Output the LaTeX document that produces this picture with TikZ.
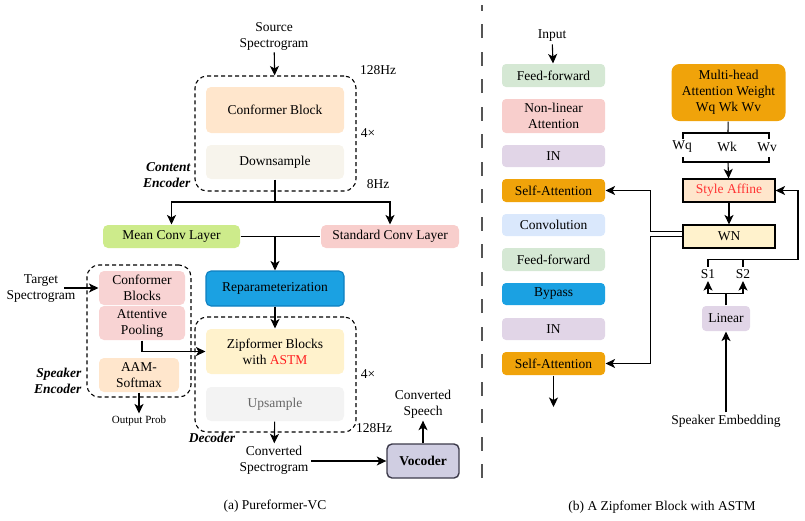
\documentclass[tikz,border=0pt]{standalone}
\usepackage{fontspec}
\setmainfont{Liberation Serif}
\usetikzlibrary{arrows.meta}

\definecolor{peach}{HTML}{FFE6CC}
\definecolor{beige}{HTML}{F7F4EC}
\definecolor{lime}{HTML}{CDEB8B}
\definecolor{rose}{HTML}{F8CECC}
\definecolor{blush}{HTML}{F8D3D3}
\definecolor{azure}{HTML}{1BA1E2}
\definecolor{azureline}{HTML}{0E7FC0}
\definecolor{cream}{HTML}{FFF2CC}
\definecolor{ash}{HTML}{F3F3F3}
\definecolor{ashtext}{HTML}{666666}
\definecolor{lavender}{HTML}{D0CEE2}
\definecolor{vocline}{HTML}{3C3A4A}
\definecolor{mint}{HTML}{D5E8D4}
\definecolor{lilac}{HTML}{E1D5E7}
\definecolor{amber}{HTML}{F0A30A}
\definecolor{sky}{HTML}{DAE8FC}
\definecolor{astm}{HTML}{FF2020}
\definecolor{affine}{HTML}{FF3333}
\definecolor{sepgray}{HTML}{555555}

\tikzset{
  blk/.style={rounded corners=5pt,minimum width=138,align=center},
  lay/.style={rounded corners=4pt,minimum width=103,minimum height=23,align=center},
  sq/.style={draw=black,minimum width=92,minimum height=23},
  frame/.style={draw,dash pattern=on 4pt off 3pt,rounded corners=12pt},
  tag/.style={font=\fontsize{13.5}{16}\selectfont\bfseries\itshape,align=right},
}

\begin{document}
\begin{tikzpicture}[x=1pt,y=-1pt,inner sep=2pt,line width=1.1pt,
    font=\fontsize{13.5}{16}\selectfont,
    >={Stealth[length=9.5pt,width=9pt,inset=2.5pt]}]
  \useasboundingbox (0,0) rectangle (805,520);

  % (a) Pureformer-VC
  \node[align=center] (src-spec) at (274,36) {Source\\Spectrogram};
  \node[frame,minimum width=161,minimum height=115] (cont-box) at (275.5,133.5) {};
  \node[blk,fill=peach,minimum height=46] (conf-block) at (275,110) {Conformer Block};
  \node[blk,fill=beige,minimum height=34] (down-sample) at (275,162) {Downsample};
  \node (hz-128a) at (378,70) {128Hz};
  \node (rep-a)   at (368,133) {4×};
  \node (hz-8)    at (378,184) {8Hz};
  \node[tag,anchor=east] (cont-lbl) at (193,175) {Content\\Encoder};

  \node[blk,fill=lime,minimum width=137,minimum height=23] (mean-conv) at (171.5,236.5) {Mean Conv Layer};
  \node[blk,fill=rose,minimum height=23] (std-conv) at (390,236.5) {Standard Conv Layer};
  \node[blk,fill=azure,draw=azureline,minimum height=35] (reparam) at (275,288.5) {Reparameterization};

  \node[frame,minimum width=161,minimum height=115] (dec-box) at (275.5,374.5) {};
  \node[blk,fill=cream,minimum height=45] (zip-block) at (275,351.5) {Zipformer Blocks\\with \textcolor{astm}{ASTM}};
  \node[blk,fill=ash,text=ashtext,minimum height=34] (up-sample) at (275,404) {Upsample};
  \node (rep-b)   at (368,374) {4×};
  \node (hz-128b) at (374,428) {128Hz};
  \node[tag] (dec-lbl) at (212,438) {Decoder};
  \node[align=center] (conv-spec) at (274,460) {Converted\\Spectrogram};
  \node[blk,fill=lavender,draw=vocline,line width=1.4pt,minimum width=72,minimum height=34,
        font=\fontsize{13.5}{16}\selectfont\bfseries] (vocoder) at (423,461) {Vocoder};
  \node[align=center] (conv-speech) at (423,404) {Converted\\Speech};

  \node[frame,minimum width=104,minimum height=132] (spk-box) at (139,331) {};
  \node[blk,fill=blush,minimum width=86,minimum height=34] (spk-conf) at (142,288) {Conformer\\Blocks};
  \node[blk,fill=blush,minimum width=86,minimum height=34] (att-pool) at (142,323) {Attentive\\Pooling};
  \node[blk,fill=peach,minimum width=80,minimum height=34] (aam) at (139,375) {AAM-\\Softmax};
  \node[align=center] (tgt-spec) at (41,289) {Target\\Spectrogram};
  \coordinate (tgt-in) at (64,288);
  \node[font=\fontsize{11}{13}\selectfont] (out-prob) at (139,421) {Output Prob};
  \node[tag,anchor=east] (spk-lbl) at (84,381) {Speaker\\Encoder};

  \node (cap-a) at (275,506) {(a) Pureformer-VC};

  \coordinate (split) at (275,202);
  \coordinate (join)  at (275,236.5);
  \draw[->] (src-spec) -- (cont-box);
  \draw (down-sample) -- (split);
  \draw[->] (split) -| (mean-conv);
  \draw[->] (split) -| (std-conv);
  \draw (mean-conv) -- (std-conv);
  \draw[->] (join) -- (reparam);
  \draw[->] (reparam) -- (zip-block);
  \draw[->] (up-sample) -- (conv-spec);
  \draw[->] (conv-spec.east |- vocoder) -- (vocoder);
  \draw[->] (vocoder) -- (conv-speech);
  \draw[->] (tgt-in) -- (spk-conf);
  \draw[->] (att-pool.south) |- (zip-block.west);
  \draw[->] (aam) -- (out-prob);

  \draw[draw=sepgray,line width=2pt,dash pattern=on 14pt off 13.5pt] (482,478) -- (482,5);

  % (b) Zipformer block
  \node (input) at (552,36) {Input};
  \node[lay,fill=mint]                    (ff1)    at (553.5,75.5)  {Feed-forward};
  \node[lay,fill=rose,minimum height=34]  (nla)    at (553.5,116)   {Non-linear\\Attention};
  \node[lay,fill=lilac,minimum height=22] (in1)    at (553.5,156)   {IN};
  \node[lay,fill=amber]                   (sa1)    at (553.5,190.5) {Self-Attention};
  \node[lay,fill=sky,minimum height=22]   (conv)   at (553.5,225)   {Convolution};
  \node[lay,fill=mint]                    (ff2)    at (553.5,259.5) {Feed-forward};
  \node[lay,fill=azure,minimum height=22] (bypass) at (553.5,294)   {Bypass};
  \node[lay,fill=lilac,minimum height=22] (in2)    at (553.5,329)   {IN};
  \node[lay,fill=amber]                   (sa2)    at (553.5,363.5) {Self-Attention};
  \coordinate (blk-out) at (553.5,407);

  \node[lay,fill=amber,minimum width=114,minimum height=57,rounded corners=8pt] (mha) at (728.5,92.5)
    {Multi-head\\Attention Weight\\Wq Wk Wv};
  \node (wq) at (682,147) {Wq};
  \node (wk) at (727,147) {Wk};
  \node (wv) at (767,147) {Wv};
  \coordinate (br-top) at (728,133);
  \coordinate (br-bot) at (728,162);
  \node[sq,fill=peach,text=affine] (sty-aff) at (729,190.5) {Style Affine};
  \node[sq,fill=cream]             (wn)      at (729,236.5) {WN};
  \node (s1) at (708,274) {S1};
  \node (s2) at (743,274) {S2};
  \coordinate (s-bar) at (798,259.5);
  \node[lay,fill=lilac,minimum width=48,minimum height=25] (linear) at (726,318.5) {Linear};
  \node (spk-emb) at (726,421) {Speaker Embedding};

  \node (cap-b) at (662,507) {(b) A Zipfomer Block with ASTM};

  \draw[->] (input) -- (ff1);
  \draw[->] (sa2) -- (blk-out);
  \draw (mha) -- (br-top);
  \draw (683,139) |- (769,133) -- (769,139);
  \draw (683,157) |- (769,162) -- (769,157);
  \draw[->] (br-bot) -- (sty-aff);
  \draw[->] (sty-aff) -- (wn);
  \draw[->] ([yshift=5pt]wn.west) -- ++(-32,0) |- (sa1);
  \draw[->] (wn.west) -- ++(-32,0) |- (sa2);
  \draw[->] (s1.north) |- (s-bar) |- (sty-aff);
  \draw (s2.north) -- (s2.north |- s-bar);
  \draw (linear.north) -- ++(0,-12) coordinate (lin-j);
  \draw[->] (lin-j) -| (s1);
  \draw[->] (lin-j) -| (s2);
  \draw[->] (spk-emb) -- (linear);
\end{tikzpicture}
\end{document}
